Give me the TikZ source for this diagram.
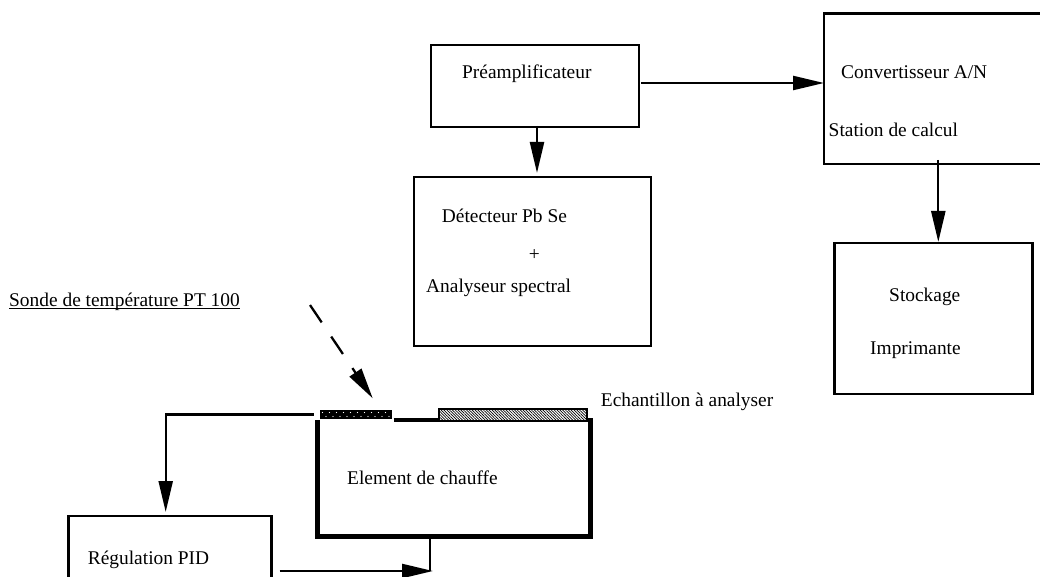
\documentclass[tikz,border=0pt]{standalone}
\usepackage{fontspec}
\setmainfont{Liberation Serif}
\usetikzlibrary{arrows.meta,patterns.meta}
\begin{document}
\begin{tikzpicture}[x=1pt,y=-1pt,
  box/.style={draw,line width=2.3pt,inner sep=0pt,outer sep=0pt,anchor=north west},
  lbl/.style={anchor=base west,inner sep=0pt,font=\fontsize{19.4}{23}\selectfont},
  arr/.style={line width=2.3pt,-{Triangle[length=31pt,width=14pt]}},
  wall/.style={line width=5pt},
]
\useasboundingbox (0,0) rectangle (1040,577);

% boxes
\node[box,minimum width=208pt,minimum height=82pt] (pre) at (431,45) {};
\node[box,minimum width=220pt,minimum height=150.5pt] (conv) at (824,13.5) {};
\node[box,minimum width=237pt,minimum height=169pt] (det) at (414,177) {};
\node[box,minimum width=198pt,minimum height=151pt] (stock) at (834.5,243) {};
\node[box,minimum width=203pt,minimum height=80pt] (pid) at (68.5,516) {};

% texts
\node[lbl] (tpre) at (462,79) {Préamplificateur};
\node[lbl] (tconva) at (841,78.3) {Convertisseur A/N};
\node[lbl] (tconvb) at (828.5,136.7) {Station de calcul};
\node[lbl] (tdeta) at (441.7,222.3) {Détecteur Pb Se};
\node[lbl,anchor=base] (tplus) at (534.3,260) {+};
\node[lbl] (tdetb) at (426,292.3) {Analyseur spectral};
\node[lbl] (tstocka) at (889,301) {Stockage};
\node[lbl] (tstockb) at (870,354) {Imprimante};
\node[lbl] (sonde) at (9,306) {Sonde de température PT 100};
\draw[line width=1pt] ([yshift=-2.5pt]sonde.base west) -- ([yshift=-2.5pt]sonde.base east);
\node[lbl] (tech) at (600.7,406.7) {Echantillon à analyser};
\node[lbl] (theat) at (347,484) {Element de chauffe};
\node[lbl] (tpid) at (87.7,564) {Régulation PID};

% heating element
\node[inner sep=0pt,outer sep=0pt,minimum width=273pt,minimum height=116pt,anchor=north west] (heat) at (317.5,420) {};
\draw[wall] (heat.north west) -- (heat.south west) -- (heat.south east) -- ([yshift=2pt]heat.north east);
\node[fill=black,inner sep=0pt,outer sep=0pt,minimum width=72pt,minimum height=9pt,anchor=north west] (sensor) at (319.5,410) {};
\foreach \i in {0,...,9}{
  \fill[white] (322.5+7*\i,412.5) circle (0.6pt);
  \fill[white] (326+7*\i,416.5) circle (0.6pt);
}
\node[draw,line width=2pt,pattern={Lines[angle=-45,distance=2pt,line width=0.7pt]},inner sep=0pt,outer sep=0pt,minimum width=148pt,minimum height=11.4pt,anchor=north west] (sample) at (438.7,409.3) {};
\draw[line width=4pt] ([xshift=2pt]sensor.east |- heat.north) -- (sample.west |- heat.north);

% connectors
\draw[arr] ([xshift=2pt,yshift=1pt]pre.south) -- ([xshift=2pt,yshift=4pt]pre.south |- det.north);
\draw[arr] ([xshift=2pt,yshift=3pt]pre.east) -- ([yshift=3pt]pre.east -| conv.west);
\draw[arr] ([xshift=4.3pt,yshift=4pt]conv.south) -- ([xshift=4.3pt,yshift=1pt]conv.south |- stock.north);
\draw[arr] ([xshift=-6pt]sensor.west) -| ([xshift=-4.3pt,yshift=4pt]pid.north);
\coordinate (j) at (430,571);
\draw[arr] ([xshift=8pt]pid.east |- j) -- ([xshift=3pt]j);
\draw[line width=2.3pt] (heat.south -| j) -- (j);
\coordinate (ds) at (310,305);
\coordinate (de) at (372.7,398.3);
\draw[line width=2.3pt,dash pattern=on 21pt off 17pt,-{Triangle[length=31pt,width=14pt]}] (ds) -- (de);
\end{tikzpicture}
\end{document}
